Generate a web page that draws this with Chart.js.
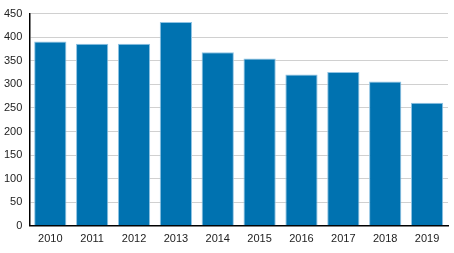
<!DOCTYPE html>
<html>
<head>
<meta charset="utf-8">
<script src="https://cdn.jsdelivr.net/npm/chart.js@4/dist/chart.umd.min.js"></script>
<style>
  html, body { margin: 0; padding: 0; background: #fff; }
  #wrap { width: 454px; height: 253px; position: relative; }
</style>
</head>
<body>
<div id="wrap"><canvas id="chart"></canvas></div>
<script>
// Values
const years = ['2010', '2011', '2012', '2013', '2014', '2015', '2016', '2017', '2018', '2019'];
const values = [391, 386, 386, 432, 368, 355, 321, 326, 306, 261];
const yTicks = [0, 50, 100, 150, 200, 250, 300, 350, 400, 450];

new Chart(document.getElementById('chart'), {
  type: 'bar',
  data: {
    labels: years,
    datasets: [{
      data: values,
      backgroundColor: '#0072b0',
      borderColor: '#8fc3e3',
      borderWidth: 1,
      categoryPercentage: 0.77,
      barPercentage: 1,
    }],
  },
  options: {
    responsive: true, maintainAspectRatio: false,
    animation: false,
    layout: { padding: { top: 8, right: 6, left: -3, bottom: 0 } },
    plugins: { legend: { display: false }, tooltip: { enabled: false } },
    scales: {
      x: {
        grid: { display: false, drawTicks: false },
        border: { color: '#000', width: 1.5 },
        ticks: { color: '#222', font: { family: 'Liberation Sans, Arial', size: 11 }, padding: 7 },
      },
      y: {
        min: 0, max: 450,
        afterBuildTicks: axis => { axis.ticks = yTicks.map(v => ({ value: v })); },
        grid: { color: '#d0d0d0', lineWidth: 1, drawTicks: false },
        border: { color: '#000', width: 1.5 },
        ticks: { color: '#222', font: { family: 'Liberation Sans, Arial', size: 11 }, padding: 7 },
      },
    },
  },
});
</script>
</body>
</html>
